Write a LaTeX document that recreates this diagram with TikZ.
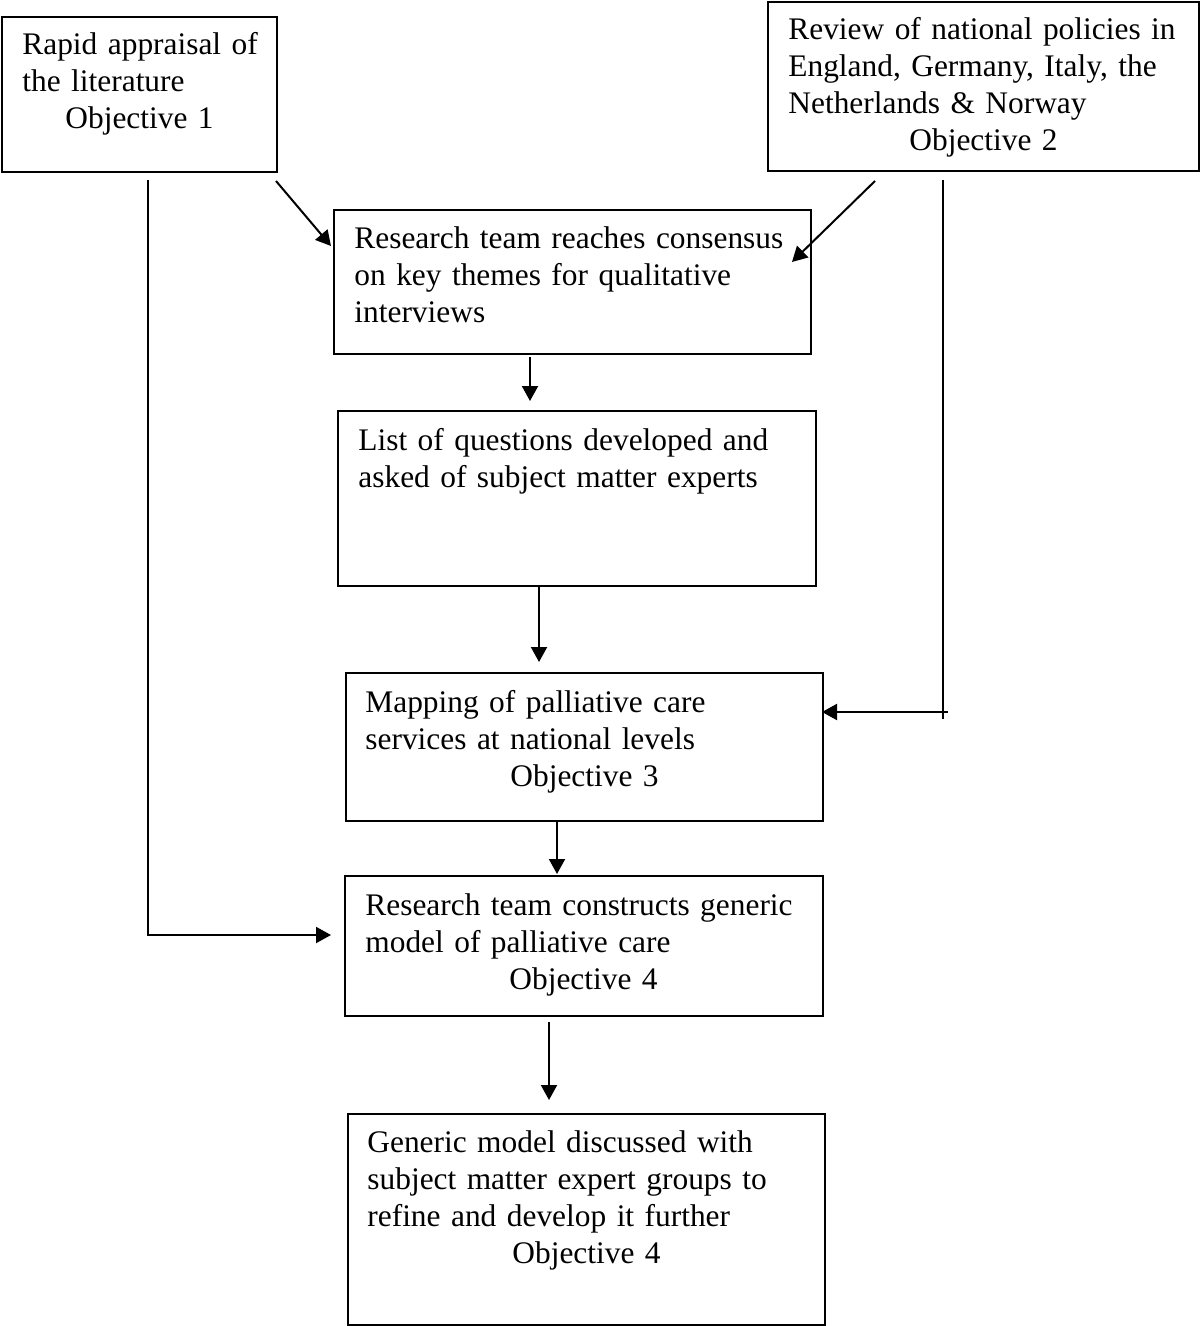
\documentclass[tikz,border=0pt]{standalone}
\usepackage{fontspec}
\setmainfont{Liberation Serif}
\usetikzlibrary{arrows.meta}
\begin{document}
\begin{tikzpicture}[x=0.5pt,y=-0.5pt,
  box/.style={draw=black,line width=1pt,anchor=north west,inner sep=0pt},
  txt/.style={anchor=base west,inner sep=0pt,align=left,text width=240pt,
    font=\fontsize{15.7}{18.5}\selectfont},
  arr/.style={line width=1pt,-{Triangle[length=7.5pt,width=8pt]}},
  ln/.style={line width=1pt}]
\useasboundingbox (0,0) rectangle (1200,1326);
% boxes
\node[box,minimum width=137.5pt,minimum height=77.5pt] (b1) at (1,16) {};
\node[box,minimum width=215.5pt,minimum height=84.5pt] (b2) at (767,1) {};
\node[box,minimum width=238.5pt,minimum height=72pt] (b3) at (333,209) {};
\node[box,minimum width=239pt,minimum height=87.5pt] (b4) at (337,410) {};
\node[box,minimum width=238.5pt,minimum height=74pt] (b5) at (345,672) {};
\node[box,minimum width=239pt,minimum height=70pt] (b6) at (344,875) {};
\node[box,minimum width=238.5pt,minimum height=105.5pt] (b7) at (347,1113) {};
% texts
\node[txt] (t1) at (22,55) {Rapid appraisal of\\the literature\\\hspace*{21.5pt}Objective 1};
\node[txt] (t2) at (788,40) {Review of national policies in\\England, Germany, Italy, the\\Netherlands \& Norway\\\hspace*{60.5pt}Objective 2};
\node[txt] (t3) at (354,249) {Research team reaches consensus\\on key themes for qualitative\\interviews};
\node[txt] (t4) at (358,450) {List of questions developed and\\asked of subject matter experts};
\node[txt] (t5) at (365,712) {Mapping of palliative care\\services at national levels\\\hspace*{72.5pt}Objective 3};
\node[txt] (t6) at (365,915) {Research team constructs generic\\model of palliative care\\\hspace*{72pt}Objective 4};
\node[txt] (t7) at (367,1152) {Generic model discussed with\\subject matter expert groups to\\refine and develop it further\\\hspace*{72.5pt}Objective 4};
% connector end points
\coordinate (s1) at (276,181);
\coordinate (e1) at (331,246);
\coordinate (s2) at (875,181);
\coordinate (e2) at (792,262);
\coordinate (l1) at (148,180);
\coordinate (l2) at (148,935);
\coordinate (l3) at (331,935);
\coordinate (r1) at (943,180);
\coordinate (r2) at (943,719);
\coordinate (r3) at (948,712);
\coordinate (r4) at (822,712);
\coordinate (a1) at (530,357);
\coordinate (a2) at (530,401);
\coordinate (c1) at (539,587);
\coordinate (c2) at (539,662);
\coordinate (d1) at (557,822);
\coordinate (d2) at (557,874);
\coordinate (f1) at (549,1022);
\coordinate (f2) at (549,1100);
% connectors
\draw[arr] (s1) -- (e1);
\draw[arr] (s2) -- (e2);
\draw[arr] (l1) -- (l2) -- (l3);
\draw[ln] (r1) -- (r2);
\draw[arr] (r3) -- (r4);
\draw[arr] (a1) -- (a2);
\draw[arr] (c1) -- (c2);
\draw[arr] (d1) -- (d2);
\draw[arr] (f1) -- (f2);
\end{tikzpicture}
\end{document}
